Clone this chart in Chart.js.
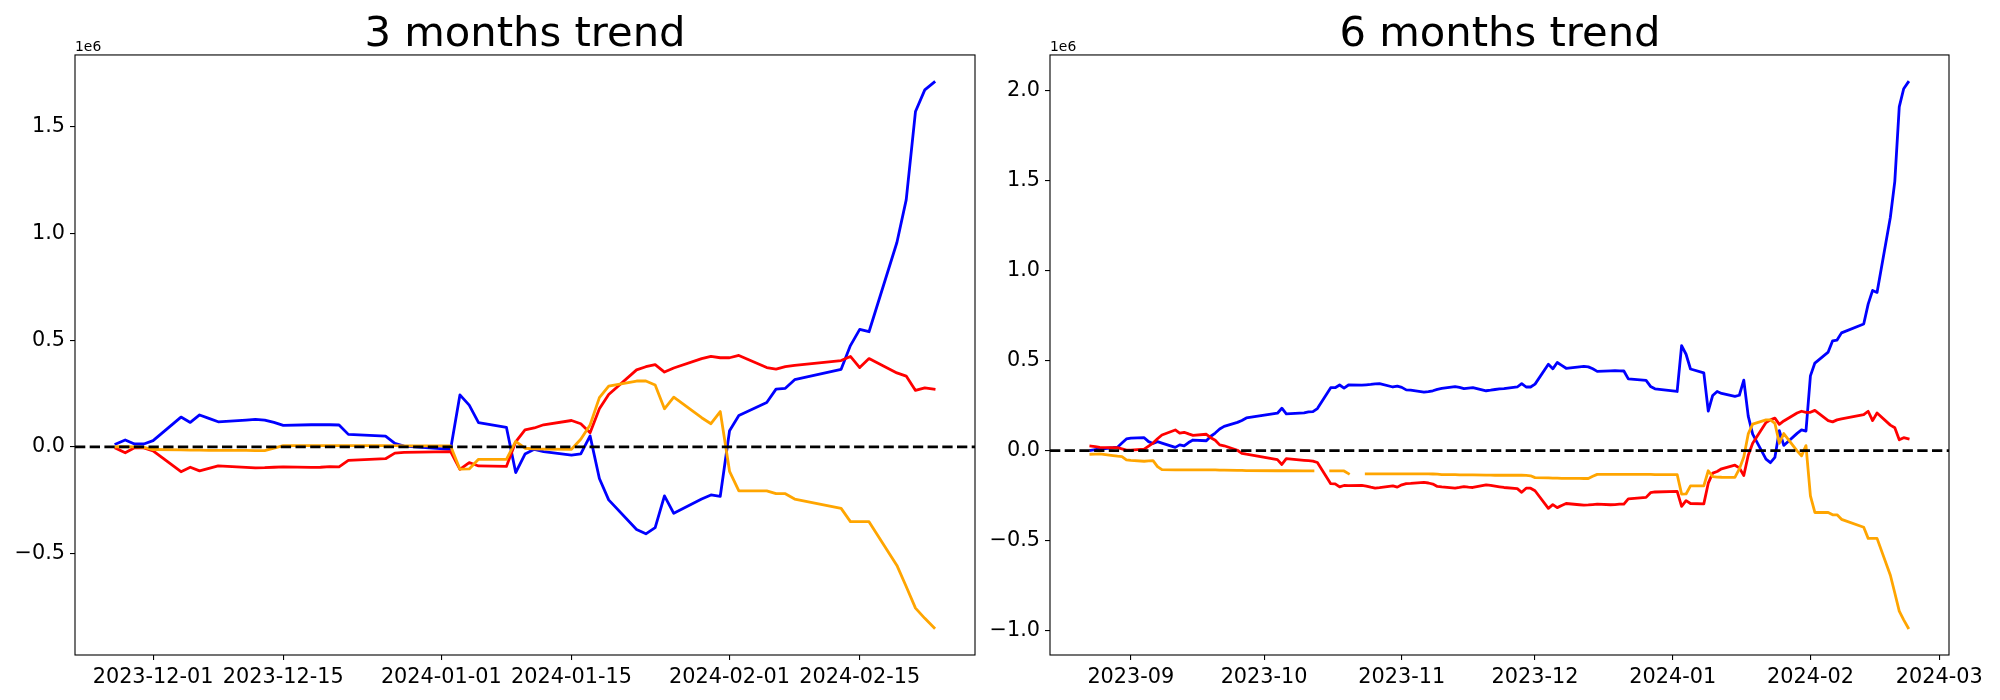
<!DOCTYPE html>
<html>
<head>
<meta charset="utf-8">
<script src="https://cdn.jsdelivr.net/npm/chart.js"></script>
<style>
  html, body { margin: 0; padding: 0; background: #fff; overflow: hidden; }
  canvas { position: absolute; top: 0; }
</style>
</head>
<body>
<canvas id="chart3m" width="1050" height="700" style="left:0px"></canvas>
<canvas id="chart6m" width="1040" height="700" style="left:980px"></canvas>
<script>
// values are in units of 1e6

// 3 months trend
const dates3m = [
  '2023-11-27','2023-11-28','2023-11-29','2023-11-30','2023-12-01',
  '2023-12-04','2023-12-05','2023-12-06','2023-12-07','2023-12-08',
  '2023-12-11','2023-12-12','2023-12-13','2023-12-14','2023-12-15',
  '2023-12-18','2023-12-19','2023-12-20','2023-12-21','2023-12-22',
  '2023-12-26','2023-12-27','2023-12-28',
  '2024-01-02','2024-01-03','2024-01-04','2024-01-05',
  '2024-01-08','2024-01-09','2024-01-10','2024-01-11','2024-01-12',
  '2024-01-15','2024-01-16','2024-01-17','2024-01-18','2024-01-19',
  '2024-01-22','2024-01-23','2024-01-24','2024-01-25','2024-01-26',
  '2024-01-29','2024-01-30','2024-01-31','2024-02-01','2024-02-02',
  '2024-02-05','2024-02-06','2024-02-07','2024-02-08',
  '2024-02-13','2024-02-14','2024-02-15','2024-02-16',
  '2024-02-19','2024-02-20','2024-02-21','2024-02-22','2024-02-23'
];
const blue3m = [
  0.014, 0.033, 0.014, 0.014, 0.030,
  0.140, 0.115, 0.150, 0.134, 0.118,
  0.126, 0.129, 0.126, 0.115, 0.101,
  0.104, 0.105, 0.104, 0.103, 0.059,
  0.051, 0.017, 0.004,
  -0.011, 0.244, 0.196, 0.114,
  0.092, -0.120, -0.033, -0.011, -0.022,
  -0.038, -0.032, 0.052, -0.148, -0.248,
  -0.387, -0.407, -0.378, -0.229, -0.311,
  -0.244, -0.225, -0.231, 0.076, 0.147,
  0.208, 0.271, 0.275, 0.315,
  0.364, 0.475, 0.551, 0.540,
  0.958, 1.158, 1.572, 1.673, 1.709
];
const red3m = [
  -0.006, -0.027, -0.004, -0.004, -0.018,
  -0.116, -0.095, -0.112, -0.100, -0.089,
  -0.096, -0.098, -0.097, -0.095, -0.093,
  -0.096, -0.095, -0.092, -0.093, -0.063,
  -0.055, -0.029, -0.025,
  -0.022, -0.105, -0.073, -0.089,
  -0.091, 0.024, 0.080, 0.089, 0.104,
  0.124, 0.109, 0.067, 0.179, 0.246,
  0.361, 0.376, 0.386, 0.351, 0.370,
  0.414, 0.424, 0.418, 0.418, 0.429,
  0.372, 0.365, 0.376, 0.382,
  0.405, 0.424, 0.372, 0.414,
  0.347, 0.332, 0.265, 0.277, 0.271
];
const orange3m = [
  0.001, 0.001, 0.000, -0.002, -0.012,
  -0.014, -0.015, -0.015, -0.016, -0.016,
  -0.016, -0.017, -0.017, -0.005, 0.006,
  0.006, 0.006, 0.006, 0.006, 0.006,
  0.006, 0.006, 0.005,
  0.005, -0.104, -0.103, -0.058,
  -0.058, 0.026, -0.006, -0.009, -0.010,
  -0.011, 0.036, 0.103, 0.231, 0.285,
  0.309, 0.309, 0.290, 0.179, 0.233,
  0.137, 0.109, 0.166, -0.114, -0.206,
  -0.206, -0.219, -0.219, -0.244,
  -0.288, -0.350, -0.350, -0.350,
  -0.555, -0.654, -0.755, -0.803, -0.847
];
const xTicks3m = ['2023-12-01', '2023-12-15', '2024-01-01', '2024-01-15', '2024-02-01', '2024-02-15'];
const yTicks3m = [-0.5, 0.0, 0.5, 1.0, 1.5];

// 6 months trend
const datesBefore3m = [
  '2023-08-23','2023-08-24','2023-08-25','2023-08-28','2023-08-29','2023-08-30','2023-08-31','2023-09-01',
  '2023-09-04','2023-09-05','2023-09-06','2023-09-07','2023-09-08',
  '2023-09-11','2023-09-12','2023-09-13','2023-09-14','2023-09-15',
  '2023-09-18','2023-09-19','2023-09-20','2023-09-21','2023-09-22',
  '2023-09-25','2023-09-26','2023-09-27',
  '2023-10-04','2023-10-05','2023-10-06',
  '2023-10-10','2023-10-11','2023-10-12','2023-10-13',
  '2023-10-16','2023-10-17','2023-10-18','2023-10-19','2023-10-20',
  '2023-10-23','2023-10-24','2023-10-25','2023-10-26','2023-10-27',
  '2023-10-30','2023-10-31','2023-11-01','2023-11-02','2023-11-03',
  '2023-11-06','2023-11-07','2023-11-08','2023-11-09','2023-11-10',
  '2023-11-13','2023-11-14','2023-11-15','2023-11-16','2023-11-17',
  '2023-11-20','2023-11-21','2023-11-22','2023-11-23','2023-11-24'
];
const dates6m = datesBefore3m.concat(dates3m);
const blue6m = [
  0.002, 0.006, 0.009, 0.016, 0.019, 0.042, 0.065, 0.070,
  0.072, 0.050, 0.040, 0.050, 0.042,
  0.018, 0.032, 0.026, 0.045, 0.059,
  0.055, 0.080, 0.098, 0.120, 0.135,
  0.157, 0.168, 0.182,
  0.208, 0.236, 0.204,
  0.210, 0.215, 0.217, 0.234,
  0.350, 0.350, 0.365, 0.348, 0.365,
  0.364, 0.366, 0.368, 0.371, 0.373,
  0.354, 0.359, 0.352, 0.338, 0.336,
  0.325, 0.328, 0.333, 0.341, 0.346,
  0.356, 0.352, 0.345, 0.348, 0.350,
  0.333, 0.336, 0.340, 0.343, 0.345,
  0.354, 0.373, 0.354, 0.354, 0.370,
  0.480, 0.455, 0.490, 0.474, 0.458,
  0.466, 0.469, 0.466, 0.455, 0.441,
  0.444, 0.445, 0.444, 0.443, 0.399,
  0.391, 0.357, 0.344,
  0.329, 0.584, 0.536, 0.454,
  0.432, 0.220, 0.307, 0.329, 0.318,
  0.302, 0.308, 0.392, 0.192, 0.092,
  -0.047, -0.067, -0.038, 0.111, 0.029,
  0.096, 0.115, 0.109, 0.416, 0.487,
  0.548, 0.611, 0.615, 0.655,
  0.704, 0.815, 0.891, 0.880,
  1.298, 1.498, 1.912, 2.013, 2.049
];
const red6m = [
  0.025, 0.022, 0.018, 0.017, 0.017, 0.010, 0.003, 0.003,
  0.008, 0.025, 0.042, 0.066, 0.087,
  0.115, 0.097, 0.102, 0.093, 0.085,
  0.091, 0.072, 0.058, 0.032, 0.027,
  0.002, -0.015, -0.020,
  -0.050, -0.077, -0.045,
  -0.054, -0.056, -0.058, -0.066,
  -0.184, -0.185, -0.202, -0.194, -0.195,
  -0.193, -0.197, -0.203, -0.208, -0.206,
  -0.196, -0.203, -0.190, -0.183, -0.182,
  -0.177, -0.180, -0.186, -0.199, -0.202,
  -0.209, -0.205, -0.200, -0.203, -0.205,
  -0.190, -0.193, -0.197, -0.201, -0.205,
  -0.211, -0.232, -0.209, -0.209, -0.223,
  -0.321, -0.300, -0.317, -0.305, -0.294,
  -0.301, -0.303, -0.302, -0.300, -0.298,
  -0.301, -0.300, -0.297, -0.298, -0.268,
  -0.260, -0.234, -0.230,
  -0.227, -0.310, -0.278, -0.294,
  -0.296, -0.181, -0.125, -0.116, -0.101,
  -0.081, -0.096, -0.138, -0.026, 0.041,
  0.156, 0.171, 0.181, 0.146, 0.165,
  0.209, 0.219, 0.213, 0.213, 0.224,
  0.167, 0.160, 0.171, 0.177,
  0.200, 0.219, 0.167, 0.209,
  0.142, 0.127, 0.060, 0.072, 0.066
];
const orange6m = [
  -0.020, -0.019, -0.018, -0.028, -0.031, -0.033, -0.051, -0.054,
  -0.059, -0.057, -0.056, -0.089, -0.106,
  -0.107, -0.107, -0.107, -0.107, -0.107,
  -0.107, -0.107, -0.107, -0.108, -0.108,
  -0.110, -0.110, -0.111,
  -0.112, -0.112, -0.112,
  -0.113, -0.113, -0.113, null,
  -0.113, -0.113, -0.113, -0.113, -0.128,
  null, -0.129, -0.129, -0.129, -0.129,
  -0.129, -0.129, -0.129, -0.129, -0.129,
  -0.129, -0.129, -0.130, -0.131, -0.133,
  -0.134, -0.135, -0.135, -0.135, -0.135,
  -0.136, -0.136, -0.137, -0.137, -0.137,
  -0.137, -0.137, -0.138, -0.140, -0.150,
  -0.152, -0.153, -0.153, -0.154, -0.154,
  -0.154, -0.155, -0.155, -0.143, -0.132,
  -0.132, -0.132, -0.132, -0.132, -0.132,
  -0.132, -0.132, -0.133,
  -0.133, -0.242, -0.241, -0.196,
  -0.196, -0.112, -0.144, -0.147, -0.148,
  -0.149, -0.102, -0.035, 0.093, 0.147,
  0.171, 0.171, 0.152, 0.041, 0.095,
  -0.001, -0.029, 0.028, -0.252, -0.344,
  -0.344, -0.357, -0.357, -0.382,
  -0.426, -0.488, -0.488, -0.488,
  -0.693, -0.792, -0.893, -0.941, -0.985
];
const xTicks6m = ['2023-09-01', '2023-10-01', '2023-11-01', '2023-12-01', '2024-01-01', '2024-02-01', '2024-03-01'];
const yTicks6m = [-1.0, -0.5, 0.0, 0.5, 1.0, 1.5, 2.0];


const fontFamily = "'DejaVu Sans'";
Chart.defaults.font.family = fontFamily;

// axes box + the "1e6" offset text
const framePlugin = {
    id: 'frame',
    afterDraw(chart) {
        const ctx = chart.ctx;
        const a = chart.chartArea;
        ctx.save();
        ctx.strokeStyle = '#000';
        ctx.lineWidth = 1.1;
        ctx.strokeRect(a.left, a.top, a.right - a.left, a.bottom - a.top);
        ctx.fillStyle = '#000';
        ctx.font = '13.9px ' + fontFamily;
        ctx.textAlign = 'left';
        ctx.textBaseline = 'alphabetic';
        ctx.fillText('1e6', a.left, a.top - 4);
        ctx.restore();
    }
};

function makeChart(canvasId, titleText, dates, blue, red, orange, xTicks, yTicks, labelLength, axisWidth, rightWidth) {
    const xs = dates.map(d => Date.parse(d));
    const xSpan = xs[xs.length - 1] - xs[0];
    const xMin = xs[0] - xSpan * 0.05;
    const xMax = xs[xs.length - 1] + xSpan * 0.05;

    const all = blue.concat(red, orange).filter(v => v !== null);
    const yLo = Math.min(...all);
    const yHi = Math.max(...all);
    const ySpan = yHi - yLo;

    const line = (vals, color, order) => ({
        data: vals.map((v, i) => ({ x: xs[i], y: v })),
        borderColor: color,
        borderWidth: 2.8,
        pointRadius: 0,
        tension: 0,
        borderJoinStyle: 'round',
        borderCapStyle: 'square',
        spanGaps: false,
        order: order
    });

    const tickFont = { family: fontFamily, size: 20.8 };
    const tickGrid = { drawOnChartArea: false, drawTicks: true, tickLength: 5, color: '#000', lineWidth: 1.1 };

    return new Chart(document.getElementById(canvasId), {
        type: 'line',
        data: {
            datasets: [
                line(blue, '#0000ff', 3),
                line(red, '#ff0000', 2),
                line(orange, '#ffa500', 1),
                {
                    data: [{ x: xMin, y: 0 }, { x: xMax, y: 0 }],
                    borderColor: '#000',
                    borderWidth: 2.8,
                    borderDash: [10.3, 4.4],
                    borderCapStyle: 'butt',
                    pointRadius: 0,
                    order: 0
                }
            ]
        },
        options: {
            responsive: false,
            animation: false,
            layout: { padding: 0 },
            plugins: {
                legend: { display: false },
                tooltip: { enabled: false },
                title: {
                    display: true,
                    text: titleText,
                    color: '#000',
                    font: { family: fontFamily, size: 41.7, weight: 'normal', lineHeight: 0.92 },
                    padding: { top: 15.6, bottom: 1 }
                }
            },
            scales: {
                x: {
                    type: 'linear',
                    min: xMin,
                    max: xMax,
                    grid: tickGrid,
                    border: { display: false },
                    ticks: {
                        color: '#000',
                        font: tickFont,
                        padding: 5,
                        autoSkip: false,
                        maxRotation: 0,
                        minRotation: 0,
                        callback: v => new Date(v).toISOString().slice(0, labelLength)
                    },
                    afterBuildTicks: s => { s.ticks = xTicks.map(d => ({ value: Date.parse(d) })); },
                    afterFit: s => { s.height = 45; }
                },
                y: {
                    type: 'linear',
                    min: yLo - ySpan * 0.05,
                    max: yHi + ySpan * 0.05,
                    grid: tickGrid,
                    border: { display: false },
                    ticks: {
                        color: '#000',
                        font: tickFont,
                        padding: 5,
                        callback: v => v.toFixed(1).replace('-', '\u2212')
                    },
                    afterBuildTicks: s => { s.ticks = yTicks.map(v => ({ value: v })); },
                    afterFit: s => { s.width = axisWidth; }
                },
                // empty right-hand axis: only keeps the plot centred under the title
                yRight: {
                    type: 'linear',
                    position: 'right',
                    grid: { display: false },
                    border: { display: false },
                    ticks: { display: false },
                    afterFit: s => { s.width = rightWidth; }
                }
            }
        },
        plugins: [framePlugin]
    });
}

makeChart('chart3m', '3 months trend', dates3m, blue3m, red3m, orange3m, xTicks3m, yTicks3m, 10, 75, 75);
makeChart('chart6m', '6 months trend', dates6m, blue6m, red6m, orange6m, xTicks6m, yTicks6m, 7, 70, 71);
</script>
</body>
</html>
